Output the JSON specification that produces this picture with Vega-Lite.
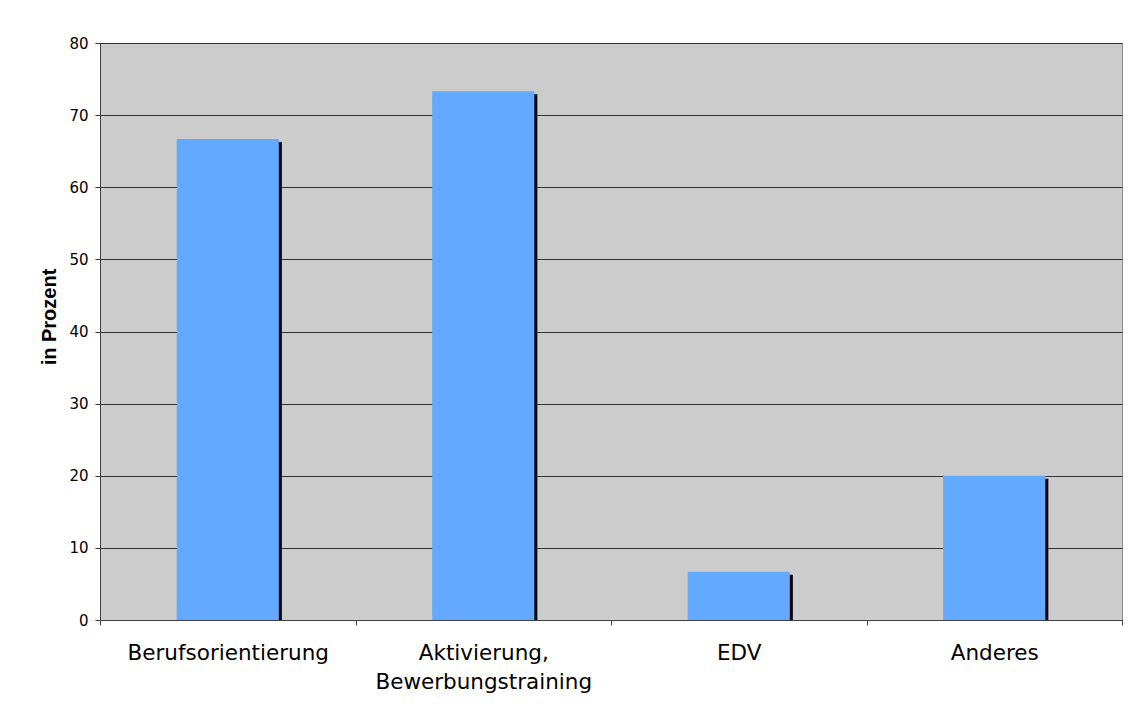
{
  "$schema": "https://vega.github.io/schema/vega-lite/v6.json",
  "width": 1022,
  "height": 577,
  "autosize": {"type": "none"},
  "padding": {"left": 100, "top": 43, "right": 13, "bottom": 93},
  "background": "white",
  "config": {
    "view": {"fill": "#CCCCCC", "stroke": "#8C8C8C"},
    "font": "DejaVu Sans"
  },
  "data": {
    "values": [
      {"kategorie": "Berufsorientierung", "prozent": 66.7},
      {"kategorie": "Aktivierung, Bewerbungstraining", "prozent": 73.3},
      {"kategorie": "EDV", "prozent": 6.7},
      {"kategorie": "Anderes", "prozent": 20.0}
    ]
  },
  "encoding": {
    "x": {
      "field": "kategorie",
      "type": "nominal",
      "sort": null,
      "scale": {"paddingInner": 0, "paddingOuter": 0},
      "axis": {
        "title": null,
        "labelAngle": 0,
        "tickBand": "extent",
        "tickSize": 5,
        "tickColor": "#404040",
        "domainColor": "#404040",
        "labelColor": "black",
        "labelFontSize": 21.5,
        "labelPadding": 17,
        "labelLineHeight": 29,
        "labelLimit": 400,
        "labelExpr": "datum.value == 'Aktivierung, Bewerbungstraining' ? ['Aktivierung,', 'Bewerbungstraining'] : datum.value"
      }
    },
    "y": {
      "field": "prozent",
      "type": "quantitative",
      "scale": {"domain": [0, 80], "nice": false},
      "axis": {
        "values": [0, 10, 20, 30, 40, 50, 60, 70, 80],
        "title": "in Prozent",
        "titleFont": "Liberation Sans",
        "titleFontSize": 20,
        "titleFontWeight": "bold",
        "titleColor": "black",
        "titleX": -45,
        "titleY": 273.5,
        "titleAngle": -90,
        "titleAlign": "center",
        "titleBaseline": "alphabetic",
        "labelFontSize": 15,
        "labelColor": "black",
        "labelPadding": 7,
        "tickSize": 5,
        "tickColor": "#404040",
        "domainColor": "#404040",
        "gridColor": "#333333",
        "gridOpacity": 1
      }
    }
  },
  "layer": [
    {"mark": {"type": "bar", "color": "black", "width": {"band": 0.4}, "xOffset": 3, "yOffset": 3, "clip": true}},
    {"mark": {"type": "bar", "color": "#63A9FF", "width": {"band": 0.4}}}
  ]
}
